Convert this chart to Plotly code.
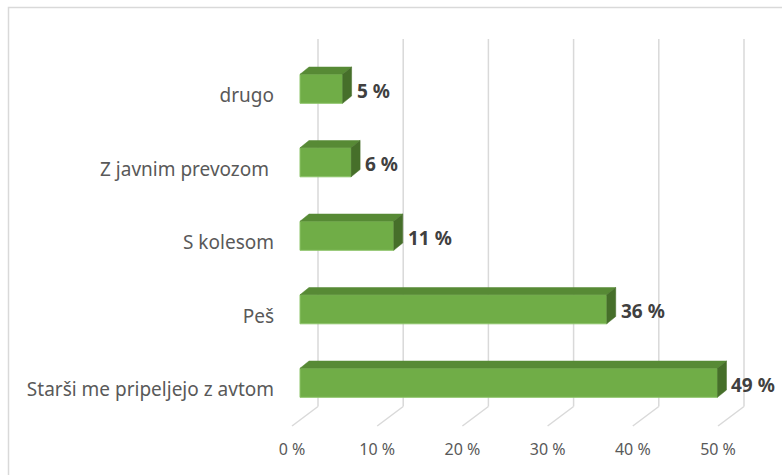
import plotly.graph_objects as go

# Survey answers: how pupils get to school (share of answers, %)
categories = ["Starši me pripeljejo z avtom", "Peš", "S kolesom", "Z javnim prevozom ", "drugo"]
values = [49, 36, 11, 6, 5]
value_labels = ["49 %", "36 %", "11 %", "6 %", "5 %"]
tick_values = [0, 10, 20, 30, 40, 50]
tick_labels = ["0 %", "10 %", "20 %", "30 %", "40 %", "50 %"]

# Layout geometry (pixels of the 782x475 page)
W, H = 782, 475
PLOT_L, PLOT_R, PLOT_T, PLOT_B = 283, 775, 20, 438
X0_PX, PX_PER_PCT = 300.0, 8.52        # pixel of 0 % on the bar fronts, px per percent
ROW0_PX, ROW_PX = 382.8, 73.5          # pixel of first row centre, px between rows


def px_to_x(px):
    return (px - X0_PX) / PX_PER_PCT


def px_to_y(py):
    return (ROW0_PX - py) / ROW_PX


# Pseudo-3D depth offsets, in axis units
BAR_DX, BAR_DY = 9 / PX_PER_PCT, 7.3 / ROW_PX       # bar depth (top/side faces)
WALL_DX = 18 / PX_PER_PCT                          # back wall shift
FLOOR_FRONT_DX = -8 / PX_PER_PCT                   # front edge of the floor
WALL_TOP = px_to_y(39)
FLOOR_BACK = px_to_y(406.5)
FLOOR_FRONT = px_to_y(426)
BAR_W = 29 / ROW_PX
LABEL_DROP = 7 / ROW_PX

FRONT = "#70AD47"
TOP = "#578A35"
SIDE = "#466F2A"
EDGE = "#8CC468"
GRID = "#D9D9D9"

rows = list(range(len(categories)))
fig = go.Figure()

# Back-wall gridlines with their floor segments, kept behind the bars
for t in tick_values:
    fig.add_shape(type="line", xref="x", yref="y", layer="below",
                  x0=t + WALL_DX, x1=t + WALL_DX, y0=WALL_TOP, y1=FLOOR_BACK,
                  line=dict(color=GRID, width=1.5))
    fig.add_shape(type="line", xref="x", yref="y", layer="below",
                  x0=t + WALL_DX, x1=t + FLOOR_FRONT_DX, y0=FLOOR_BACK, y1=FLOOR_FRONT,
                  line=dict(color=GRID, width=1.5))

# Front faces of the bars
fig.add_trace(go.Bar(
    x=values, y=rows, orientation="h", width=BAR_W,
    marker=dict(color=FRONT, line=dict(color=EDGE, width=1)),
    showlegend=False, hoverinfo="skip"))

# Top and side faces of each bar
for r, v in zip(rows, values):
    yt = r + BAR_W / 2
    yb = r - BAR_W / 2
    fig.add_trace(go.Scatter(
        x=[0, v, v + BAR_DX, BAR_DX, 0],
        y=[yt, yt, yt + BAR_DY, yt + BAR_DY, yt],
        mode="lines", fill="toself", fillcolor=TOP,
        line=dict(color=TOP, width=0.5),
        hoverinfo="skip", showlegend=False))
    fig.add_trace(go.Scatter(
        x=[v, v + BAR_DX, v + BAR_DX, v, v],
        y=[yb, yb + BAR_DY, yt + BAR_DY, yt, yb],
        mode="lines", fill="toself", fillcolor=SIDE,
        line=dict(color=SIDE, width=0.5),
        hoverinfo="skip", showlegend=False))

# Value labels next to the bars
for r, v, lab in zip(rows, values, value_labels):
    fig.add_annotation(
        x=v + BAR_DX, y=r, text=lab, showarrow=False,
        xanchor="left", yanchor="middle", xshift=3, yshift=-2,
        font=dict(family="Noto Sans", size=19, color="#404040", weight="bold"))

plot_w = PLOT_R - PLOT_L
plot_h = PLOT_B - PLOT_T

# Chart-area border (runs off the right and bottom of the page)
fig.add_shape(
    type="rect", xref="paper", yref="paper",
    x0=(8.5 - PLOT_L) / plot_w, x1=(W + 20 - PLOT_L) / plot_w,
    y0=(PLOT_B - (H + 20)) / plot_h, y1=(PLOT_B - 7.5) / plot_h,
    line=dict(color=GRID, width=1.5), fillcolor="rgba(0,0,0,0)", layer="below")

fig.update_layout(
    width=W, height=H,
    margin=dict(l=PLOT_L, r=W - PLOT_R, t=PLOT_T, b=H - PLOT_B),
    paper_bgcolor="white", plot_bgcolor="white",
    font=dict(family="Noto Sans", color="#595959", size=16),
    xaxis=dict(
        range=[px_to_x(PLOT_L), px_to_x(PLOT_R)],
        tickvals=[t + FLOOR_FRONT_DX for t in tick_values],
        ticktext=tick_labels, showgrid=False, zeroline=False,
        showline=False, ticks="", ticklabelstandoff=0,
        tickfont=dict(size=16, color="#595959")),
    yaxis=dict(
        range=[px_to_y(PLOT_B), px_to_y(PLOT_T)],
        tickvals=[r - LABEL_DROP for r in rows],
        ticktext=categories, showgrid=False, zeroline=False,
        showline=False, ticks="", ticklabelstandoff=8,
        tickfont=dict(size=19, color="#595959")),
)

fig.write_html("out.html")
